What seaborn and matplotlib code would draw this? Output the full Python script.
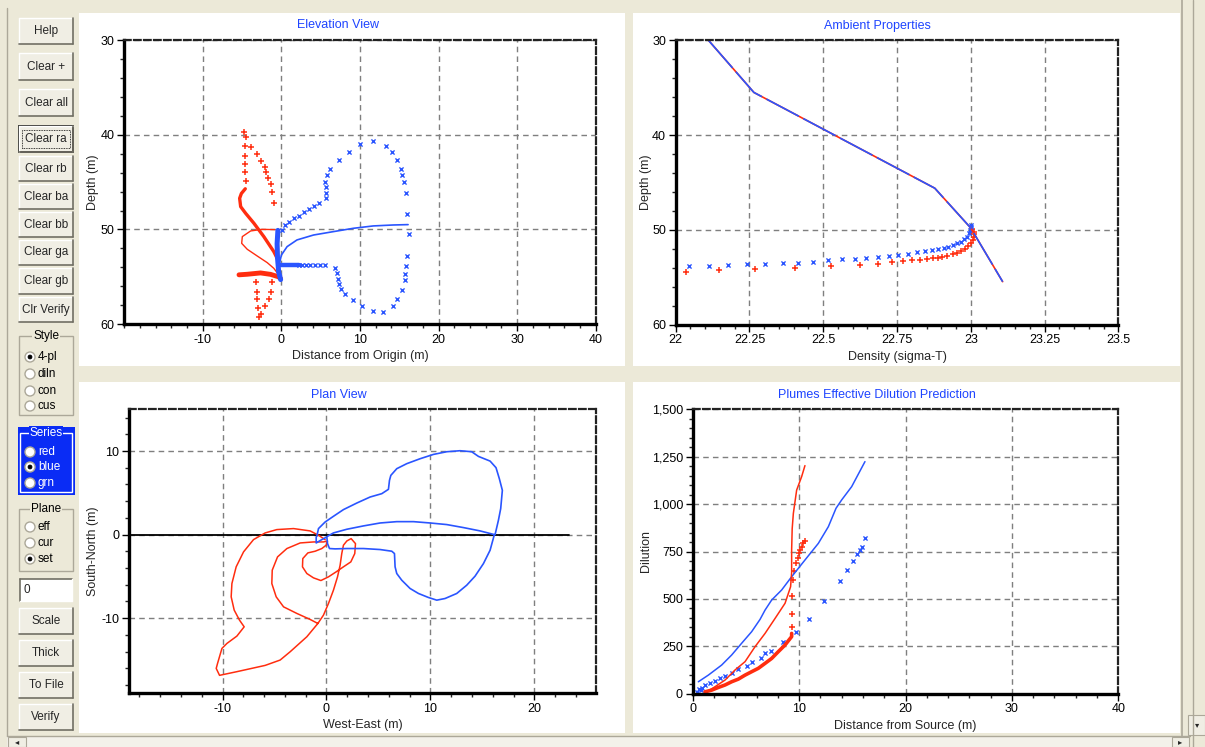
import numpy as np
import pandas as pd
import matplotlib
matplotlib.use("Agg")
import matplotlib.pyplot as plt
import seaborn as sns
from matplotlib.patches import Rectangle, Ellipse
from matplotlib.lines import Line2D
from matplotlib.ticker import MultipleLocator, FixedLocator, FuncFormatter

# ---------------- DATA ----------------
# Elevation view (x: distance from origin m, y: depth m)
elev_red_plus_x = [-4.77, -4.5, -3.92, -3.16, -2.62, -2.15, -1.98, -1.73, -1.39, -1.22, -0.89,
                   -4.68, -4.68, -4.68, -4.68, -4.47,
                   -3.25, -3.08, -3.08, -3.0, -2.91, -2.62, -2.15, -1.52, -1.31, -1.18]
elev_red_plus_y = [39.66, 40.19, 41.24, 42.02, 42.73, 43.36, 43.96, 44.52, 45.16, 46.0, 47.24,
                   41.17, 42.2, 43.08, 43.96, 44.87,
                   55.52, 56.58, 57.39, 58.27, 59.22, 58.97, 58.09, 57.32, 56.58, 55.52]
elev_red_thick_x = [-4.6, -5.1, -5.32, -5.19, -4.56, -3.5, -2.24, -0.97, -0.55]
elev_red_thick_y = [45.7, 46.2, 46.71, 47.59, 48.29, 49.35, 50.76, 52.35, 53.05]
elev_red_low_x = [-5.4, -4.35, -2.66, -1.39, -0.4, -0.13]
elev_red_low_y = [54.8, 54.74, 54.6, 54.75, 55.0, 55.17]
elev_red_thin_x = [-0.84, -2.45, -3.92, -4.98, -5.06, -4.35, -3.08, -1.81, -0.97, -0.34]
elev_red_thin_y = [50.02, 49.99, 50.16, 50.76, 51.47, 52.1, 52.81, 53.51, 54.11, 54.81]

elev_blue_x_x = [0.08, 0.51, 0.93, 1.56, 2.19, 2.83, 3.46, 4.09, 4.81, 5.61, 5.65, 5.65, 5.57, 5.78,
                 6.2, 7.34, 8.65, 10.0, 11.6, 13.33, 14.05, 14.77, 15.19, 15.32, 15.61, 15.91,
                 16.03, 16.2, 16.03, 15.91, 15.78, 15.7, 15.32, 14.77, 14.18, 12.87, 11.6, 10.3,
                 9.16, 8.06, 7.59, 7.38, 7.17, 7.05, 6.88, 5.49, 4.85, 4.22, 3.67, 3.16, 2.62, 2.19]
elev_blue_x_y = [50.06, 49.53, 49.18, 48.82, 48.58, 48.19, 47.87, 47.52, 47.24, 46.71, 46.11, 45.54,
                 45.02, 44.24, 43.64, 42.65, 41.77, 41.0, 40.65, 41.14, 41.77, 42.65, 43.64, 44.24,
                 45.02, 46.11, 48.36, 50.51, 52.77, 53.86, 54.74, 55.34, 56.4, 57.35, 58.09, 58.73,
                 58.62, 58.09, 57.49, 56.86, 56.33, 55.77, 55.2, 54.64, 54.11, 53.76, 53.76, 53.76,
                 53.76, 53.76, 53.76, 53.76]
elev_blue_vert_x = [-0.45, -0.55, -0.5, -0.35, -0.1]
elev_blue_vert_y = [50.1, 51.5, 53.0, 54.5, 55.3]
elev_blue_horz_x = [-0.3, 0.6, 1.4, 2.2]
elev_blue_horz_y = [53.76, 53.76, 53.76, 53.76]
elev_blue_thin_x = [-0.25, 0.0, 0.72, 1.98, 4.09, 6.62, 9.16, 11.69, 14.22, 16.12]
elev_blue_thin_y = [53.58, 52.7, 51.82, 51.11, 50.59, 50.23, 49.88, 49.63, 49.53, 49.49]

# Ambient properties (x: density sigma-T, y: depth m)
amb_line_x = [22.111, 22.265, 22.878, 23.0, 23.108]
amb_line_y = [30.0, 35.5, 45.6, 49.8, 55.46]
amb_red_x = [22.034, 22.146, 22.269, 22.405, 22.527, 22.626, 22.686, 22.733, 22.77, 22.802, 22.827,
             22.851, 22.872, 22.888, 22.902, 22.92, 22.94, 22.955, 22.968, 22.98, 22.99, 23.0,
             23.006, 23.01, 23.012, 23.01, 23.003]
amb_red_y = [54.4, 54.27, 54.16, 54.06, 53.81, 53.7, 53.6, 53.42, 53.28, 53.18, 53.18,
             53.07, 52.96, 52.93, 52.82, 52.72, 52.58, 52.42, 52.22, 51.98, 51.72, 51.42,
             51.1, 50.72, 50.4, 50.19, 49.9]
amb_blue_x = [22.045, 22.114, 22.177, 22.243, 22.304, 22.363, 22.415, 22.467, 22.516, 22.565,
              22.607, 22.646, 22.686, 22.723, 22.754, 22.786, 22.818, 22.845, 22.867, 22.888,
              22.908, 22.924, 22.941, 22.955, 22.967, 22.978, 22.986, 22.994, 22.998, 23.0, 23.0]
amb_blue_y = [53.81, 53.81, 53.7, 53.57, 53.57, 53.46, 53.46, 53.35, 53.21, 53.07,
              53.07, 52.93, 52.82, 52.72, 52.65, 52.54, 52.37, 52.19, 52.12, 52.05,
              51.95, 51.77, 51.6, 51.42, 51.24, 51.0, 50.72, 50.37, 50.01, 49.7, 49.5]

# Plan view (x: west-east m, y: south-north m)
plan_blue_x = [0.1, 0.67, 1.96, 3.56, 5.16, 6.76, 8.37, 9.97, 11.57, 13.17, 14.78, 16.15,
               15.74, 15.1, 14.29, 13.49, 12.53, 11.41, 10.61, 9.81, 8.85, 8.04, 7.24, 6.76,
               6.6, 6.54, 6.28, 5.16, 3.56, 1.96, 0.83, 0.29, 0.1, 0.03,
               -0.45, -0.99, -0.99, -0.93, -0.77, -0.13, 0.67, 1.63, 2.92, 4.2, 5.32, 5.96,
               6.06, 6.19, 6.76, 7.72, 9.0, 10.29, 11.57, 12.85, 13.97, 14.62, 15.74, 16.31,
               16.63, 16.92, 16.76, 16.54, 16.22]
plan_blue_y = [-0.2, 0.2, 0.64, 1.04, 1.39, 1.55, 1.55, 1.39, 1.2, 0.84, 0.44, 0.0,
               -1.87, -3.47, -4.98, -6.06, -7.05, -7.65, -7.85, -7.53, -7.05, -6.45, -5.46, -4.66,
               -3.86, -2.27, -1.99, -1.79, -1.67, -1.67, -1.71, -1.67, -1.08, -0.28,
               -0.6, -1.0, -0.28, -0.2, 0.72, 1.51, 2.19, 2.99, 3.78, 4.5, 4.9, 5.42,
               6.49, 7.09, 7.89, 8.49, 9.08, 9.6, 9.92, 10.04, 9.92, 9.36, 8.8, 8.01,
               6.69, 5.3, 3.11, 1.71, 0.0]
plan_red_x = [-0.13, -0.77, -1.57, -3.17, -4.78, -5.9, -7.02, -7.98, -8.69, -9.1, -9.17, -8.88,
              -8.37, -7.92, -8.62, -9.58, -10.06, -10.48, -10.61, -10.29, -8.62, -5.9, -4.46,
              -3.49, -1.89, -0.83,
              -0.29, 0.19, 0.67, 1.06, 1.31, 1.47, 1.63, 1.96, 2.37, 2.79, 2.72, 2.34, 1.63,
              0.93, 0.19, -0.54, -1.25, -1.89, -2.31, -2.28, -1.79, -1.09, -0.45, -0.03, 0.1,
              -0.29, -1.25, -2.53, -3.81, -4.71, -5.22, -5.26, -4.84, -4.13, -2.85, -1.57, -0.83]
plan_red_y = [-0.6, -0.08, 0.44, 0.72, 0.6, 0.2, -0.6, -2.07, -3.86, -5.86, -7.45, -9.04,
              -10.24, -11.04, -12.15, -13.03, -13.63, -15.42, -16.02, -16.85, -16.41, -15.66, -15.02,
              -14.02, -12.23, -10.64,
              -9.64, -8.25, -6.65, -5.06, -3.67, -2.27, -1.27, -0.76, -0.48, -1.08, -2.27, -3.27, -3.86,
              -4.46, -5.06, -5.5, -5.18, -4.66, -3.86, -2.87, -2.19, -1.99, -1.67, -1.27, -0.76,
              -0.88, -0.88, -1.0, -1.67, -2.67, -4.26, -5.86, -7.45, -8.65, -9.44, -10.16, -10.64]
plan_axis_x = [-19.0, 23.3]
plan_axis_y = [0.0, 0.0]

# Dilution (x: distance from source m, y: dilution)
dil_blue_line_x = [0.53, 1.47, 2.72, 3.66, 4.6, 5.54, 6.33, 6.8, 7.42, 8.36, 9.3, 10.55, 11.81,
                   12.75, 13.47, 14.0, 14.94, 16.19]
dil_blue_line_y = [63, 98, 151, 204, 266, 327, 392, 441, 494, 547, 617, 705, 793,
                   881, 978, 1022, 1092, 1224]
dil_red_line_x = [1.32, 2.1, 3.04, 3.98, 4.92, 5.86, 6.8, 7.74, 8.68, 9.2, 9.3, 9.3, 9.35,
                  9.46, 9.77, 10.24, 10.55]
dil_red_line_y = [10, 37, 72, 125, 169, 248, 318, 397, 477, 564, 640, 760, 870,
                  951, 1074, 1145, 1203]
dil_red_dense_x = [1.16, 1.79, 2.41, 3.04, 3.66, 4.29, 4.92, 5.54, 6.17, 6.8, 7.42, 8.05,
                   8.68, 9.0, 9.3, 9.3]
dil_red_dense_y = [10, 19, 33, 46, 63, 77, 98, 116, 134, 160, 186, 222, 257, 280, 301, 318]
dil_red_plus_x = [9.3, 9.3, 9.3, 9.4, 9.49, 9.71, 9.87, 9.99, 10.12, 10.24, 10.4, 10.55]
dil_red_plus_y = [353, 420, 515, 600, 649, 688, 714, 740, 758, 775, 793, 807]
dil_blue_x_x = [0.45, 0.6, 0.75, 0.9, 1.16, 1.63, 2.1, 2.57, 3.04, 3.66, 4.29, 5.07, 5.61, 6.42,
                6.8, 7.33, 8.46, 9.68, 10.9, 12.34, 13.84, 14.53, 15.06, 15.41, 15.72, 15.94, 16.19]
dil_blue_x_y = [10, 25, 18, 32, 46, 58, 67, 81, 93, 107, 128, 148, 167, 186,
                213, 227, 273, 327, 396, 487, 596, 652, 702, 737, 758, 775, 821]

# ---------------- STYLE ----------------
W, H = 1205, 747
sns.set_style("white")
plt.rcParams["font.family"] = ["Liberation Sans", "DejaVu Sans"]

RED = "#ff2d0f"
BLUE = "#2a55ff"
TITLE = "#1e44ff"
BG = "#ece9d8"
GRID = "#7f7f7f"

fig = plt.figure(figsize=(W / 100, H / 100), dpi=100, facecolor=BG)


def fx(x):
    return x / W


def fy(y):
    return 1 - y / H


def frect(x0, y0, x1, y1, **kw):
    r = Rectangle((fx(x0), fy(y1)), (x1 - x0) / W, (y1 - y0) / H,
                  transform=fig.transFigure, **kw)
    fig.add_artist(r)
    return r


def fline(x0, y0, x1, y1, **kw):
    fig.add_artist(Line2D([fx(x0), fx(x1)], [fy(y0), fy(y1)], transform=fig.transFigure, **kw))


def ax_px(x0, y0, x1, y1):
    return fig.add_axes([x0 / W, 1 - y1 / H, (x1 - x0) / W, (y1 - y0) / H])


# white panels
for (a, b, c, d) in [(79, 13, 625, 366), (633, 13, 1180, 366), (79, 382, 625, 733), (633, 382, 1180, 733)]:
    frect(a, b, c, d, facecolor="white", edgecolor="none", zorder=0)


def style(ax, xlim, ylim, xticks, yticks, xminor, yminor, invert=False, xfmt=None, yfmt=None):
    ax.set_facecolor("white")
    ax.set_xlim(*xlim)
    ax.set_ylim(*ylim)
    if invert:
        ax.invert_yaxis()
    ax.xaxis.set_major_locator(FixedLocator(xticks))
    ax.yaxis.set_major_locator(FixedLocator(yticks))
    ax.xaxis.set_minor_locator(MultipleLocator(xminor))
    ax.yaxis.set_minor_locator(MultipleLocator(yminor))
    ax.xaxis.set_major_formatter(FuncFormatter(xfmt or (lambda v, p: "%g" % v)))
    ax.yaxis.set_major_formatter(FuncFormatter(yfmt or (lambda v, p: "%g" % v)))
    ax.grid(True, which="major", color=GRID, linestyle=(0, (4, 3)), linewidth=1.0)
    ax.set_axisbelow(True)
    for s in ["left", "bottom"]:
        ax.spines[s].set_linewidth(2.4)
        ax.spines[s].set_color("black")
    for s in ["top", "right"]:
        ax.spines[s].set_linewidth(1.6)
        ax.spines[s].set_color("#222222")
        ax.spines[s].set_linestyle((0, (3, 1.5)))
    ax.tick_params(which="major", direction="out", length=5, width=1, labelsize=9,
                   pad=2, colors="black", left=True, bottom=True, top=False, right=False)
    ax.tick_params(which="minor", direction="out", length=3, width=1,
                   left=True, bottom=True, top=False, right=False)


def labels(ax, title, xl, yl, title_x, title_y, ylab_dx):
    fig.text(fx(title_x), fy(title_y), title, color=TITLE, fontsize=9, ha="center", va="center")
    ax.set_xlabel(xl, fontsize=9, labelpad=3)
    ax.set_ylabel(yl, fontsize=9, va="center")
    ax.yaxis.set_label_coords(ylab_dx, 0.5)


# ---- Elevation View ----
ax1 = ax_px(124.3, 40.3, 595.7, 324)
style(ax1, (-20, 40), (30, 60), [-10, 0, 10, 20, 30, 40], [30, 40, 50, 60], 2, 2, invert=True)
sns.lineplot(x=elev_red_thin_x, y=elev_red_thin_y, sort=False, estimator=None, color=RED, lw=1, ax=ax1)
sns.lineplot(x=elev_red_thick_x, y=elev_red_thick_y, sort=False, estimator=None, color=RED, lw=2.4, ax=ax1)
sns.lineplot(x=elev_red_low_x, y=elev_red_low_y, sort=False, estimator=None, color=RED, lw=3.5, ax=ax1)
sns.scatterplot(x=elev_red_plus_x, y=elev_red_plus_y, marker="+", color=RED, s=16, linewidth=1.1, ax=ax1)
sns.lineplot(x=elev_blue_thin_x, y=elev_blue_thin_y, sort=False, estimator=None, color=BLUE, lw=1.2, ax=ax1)
sns.scatterplot(x=elev_blue_x_x, y=elev_blue_x_y, marker="x", color=BLUE, s=9, linewidth=1.0, ax=ax1)
sns.lineplot(x=elev_blue_vert_x, y=elev_blue_vert_y, sort=False, estimator=None, color=BLUE, lw=3.6, ax=ax1)
sns.lineplot(x=elev_blue_horz_x, y=elev_blue_horz_y, sort=False, estimator=None, color=BLUE, lw=3.2, ax=ax1)
labels(ax1, "Elevation View", "Distance from Origin (m)", "Depth (m)", 338, 25.5, -31 / 471.4)

# ---- Ambient Properties ----
ax2 = ax_px(675.7, 40.3, 1118.3, 324.7)
style(ax2, (22, 23.5), (30, 60), [22, 22.25, 22.5, 22.75, 23, 23.25, 23.5], [30, 40, 50, 60], 0.05, 2, invert=True)
sns.lineplot(x=amb_line_x, y=amb_line_y, sort=False, estimator=None, color=RED, lw=1.2, ax=ax2)
sns.lineplot(x=amb_line_x, y=amb_line_y, sort=False, estimator=None, color=BLUE, lw=1.2,
             linestyle=(0, (22, 3)), ax=ax2)
sns.scatterplot(x=amb_red_x, y=amb_red_y, marker="+", color=RED, s=16, linewidth=1.1, ax=ax2)
sns.scatterplot(x=amb_blue_x, y=amb_blue_y, marker="x", color=BLUE, s=9, linewidth=1.0, ax=ax2)
labels(ax2, "Ambient Properties", "Density (sigma-T)", "Depth (m)", 877, 25.5, -30 / 442.6)

# ---- Plan View ----
ax3 = ax_px(129, 409.3, 595.7, 693.3)
style(ax3, (-19, 25.9), (-19, 15), [-10, 0, 10, 20], [-10, 0, 10], 2, 2)
sns.lineplot(x=plan_axis_x, y=plan_axis_y, sort=False, estimator=None, color="black", lw=1.3, ax=ax3)
sns.lineplot(x=plan_red_x, y=plan_red_y, sort=False, estimator=None, color=RED, lw=1.1, ax=ax3)
sns.lineplot(x=plan_blue_x, y=plan_blue_y, sort=False, estimator=None, color=BLUE, lw=1.2, ax=ax3)
labels(ax3, "Plan View", "West-East (m)", "South-North (m)", 339, 394.7, -36 / 466.7)

# ---- Dilution ----
ax4 = ax_px(692.7, 409.3, 1118.3, 693.7)
style(ax4, (0, 40), (0, 1500), [0, 10, 20, 30, 40], [0, 250, 500, 750, 1000, 1250, 1500], 2, 50,
      yfmt=lambda v, p: f"{int(v):,}")
sns.lineplot(x=dil_blue_line_x, y=dil_blue_line_y, sort=False, estimator=None, color=BLUE, lw=1.1, ax=ax4)
sns.lineplot(x=dil_red_line_x, y=dil_red_line_y, sort=False, estimator=None, color=RED, lw=1.1, ax=ax4)
sns.lineplot(x=dil_red_dense_x, y=dil_red_dense_y, sort=False, estimator=None, color=RED, lw=2.6, ax=ax4)
sns.scatterplot(x=dil_red_plus_x, y=dil_red_plus_y, marker="+", color=RED, s=16, linewidth=1.1, ax=ax4)
sns.scatterplot(x=dil_blue_x_x, y=dil_blue_x_y, marker="x", color=BLUE, s=9, linewidth=1.0, ax=ax4)
labels(ax4, "Plumes Effective Dilution Prediction", "Distance from Source (m)", "Dilution", 877, 394.7,
       -47 / 425.6)

for ax in (ax1, ax2, ax3, ax4):
    if ax.get_legend():
        ax.get_legend().remove()

# ---------------- GUI side panel ----------------
BTN_FACE = "#f0eee4"
DARK = "#716f64"
MID = "#aca899"


def button(y0, y1, text, focus=False):
    x0, x1 = 19, 73
    frect(x0, y0, x1, y1, facecolor=BTN_FACE, edgecolor="none")
    fline(x0, y0, x1, y0, color="white", lw=1)
    fline(x0, y0, x0, y1, color="white", lw=1)
    fline(x0, y1, x1, y1, color=DARK, lw=1.2)
    fline(x1, y0, x1, y1, color=DARK, lw=1.2)
    if focus:
        frect(x0, y0, x1, y1, facecolor="none", edgecolor="black", lw=1.2)
        frect(x0 + 3, y0 + 4, x1 - 3, y1 - 4, facecolor="none", edgecolor="black", lw=0.6,
              linestyle=(0, (1, 1)))
    fig.text(fx((x0 + x1) / 2), fy((y0 + y1) / 2), text, ha="center", va="center", fontsize=8.5)


buttons = [(18, 44, "Help"), (53, 80, "Clear +"), (89, 116, "Clear all"), (126, 152, "Clear ra"),
           (156, 181, "Clear rb"), (184, 209, "Clear ba"), (212, 237, "Clear bb"),
           (240, 265, "Clear ga"), (268, 294, "Clear gb"), (297, 322, "Clr Verify"),
           (608, 634, "Scale"), (640, 666, "Thick"), (672, 698, "To File"), (704, 730, "Verify")]
for y0, y1, t in buttons:
    button(y0, y1, t, focus=(t == "Clear ra"))


def radio(x, y, label, selected, fg="black"):
    fig.add_artist(Ellipse((fx(x), fy(y)), 10 / W, 10 / H, transform=fig.transFigure,
                           facecolor="white", edgecolor=MID, lw=1))
    if selected:
        fig.add_artist(Ellipse((fx(x), fy(y)), 4 / W, 4 / H, transform=fig.transFigure,
                               facecolor="black", edgecolor="black", lw=0.5))
    fig.text(fx(x + 8), fy(y), label, ha="left", va="center", fontsize=8.5, color=fg)


def group(y0, y1, title, items, sel, fill=None, fg="black"):
    x0, x1 = 19, 73
    if fill:
        frect(x0 - 1, y0 - 3, x1 + 2, y1, facecolor=fill, edgecolor="none")
        frect(x0 + 1, y0 + 3, x1 - 1, y1 - 3, facecolor="none", edgecolor="white", lw=1)
    else:
        frect(x0, y0 + 3, x1, y1, facecolor="none", edgecolor=MID, lw=1)
    fig.text(fx(46), fy(y0 + 3), title, ha="center", va="center", fontsize=8.5, color=fg,
             bbox=dict(facecolor=fill or BG, edgecolor="none", pad=0.5))
    for i, (yy, lab) in enumerate(items):
        radio(30, yy, lab, i == sel, fg=fg)


group(333, 415, "Style", [(357, "4-pl"), (374, "diln"), (391, "con"), (406, "cus")], 0)
group(430, 495, "Series", [(452, "red"), (467, "blue"), (483, "grn")], 1, fill="#0a2cf5", fg="white")
group(506, 571, "Plane", [(527, "eff"), (543, "cur"), (559, "set")], 2)

# text box
frect(20, 579, 72, 601, facecolor="white", edgecolor="none")
fline(20, 579, 72, 579, color=DARK, lw=1.2)
fline(20, 579, 20, 601, color=DARK, lw=1.2)
fline(20, 601, 72, 601, color="white", lw=1)
fline(72, 579, 72, 601, color="white", lw=1)
fig.text(fx(24), fy(590), "0", ha="left", va="center", fontsize=8.5)

# scrollbars
frect(7, 736, 1190, 747, facecolor="#f3f1ea", edgecolor="none")
fline(7, 736, 1190, 736, color=MID, lw=1)
frect(8, 737, 26, 747, facecolor=BTN_FACE, edgecolor=MID, lw=0.8)
frect(1172, 737, 1189, 747, facecolor=BTN_FACE, edgecolor=MID, lw=0.8)
fig.text(fx(17), fy(743), "\u25c2", ha="center", va="center", fontsize=6)
fig.text(fx(1180), fy(743), "\u25b8", ha="center", va="center", fontsize=6)
fline(1182, 0, 1182, 736, color=MID, lw=1.2)
fline(1193, 0, 1193, 747, color=MID, lw=1)
frect(1188, 715, 1205, 735, facecolor=BTN_FACE, edgecolor=MID, lw=0.8)
fig.text(fx(1197), fy(726), "\u25be", ha="center", va="center", fontsize=6)
fline(7, 8, 7, 736, color=MID, lw=1)

fig.savefig("out.png", dpi=100, facecolor=BG)
